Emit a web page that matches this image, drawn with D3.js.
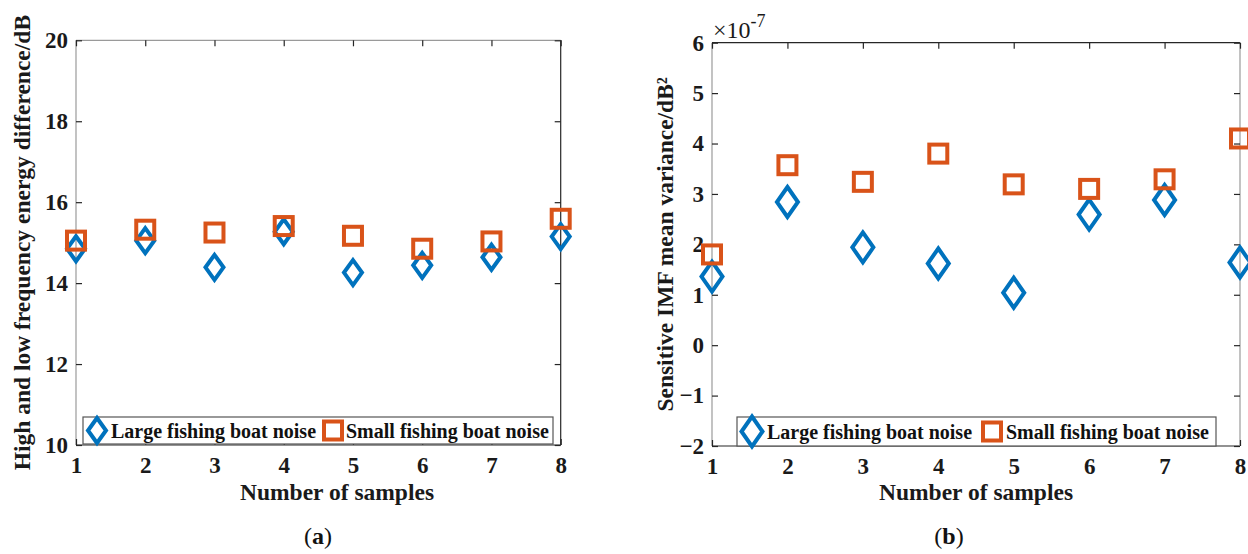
<!DOCTYPE html>
<html>
<head>
<meta charset="utf-8">
<script src="https://cdn.jsdelivr.net/npm/d3@7"></script>
<style>
  html, body { margin: 0; padding: 0; background: #fff; }
  svg { display: block; }
  text { font-family: "Liberation Serif", "Times New Roman", serif; }
</style>
</head>
<body>
<svg id="fig" width="1248" height="554"></svg>
<script>
// Sample indices shared by both panels
const samples = [1, 2, 3, 4, 5, 6, 7, 8];

// (a) High/low frequency energy difference, dB
const energyLarge = [14.85, 15.05, 14.39, 15.27, 14.26, 14.44, 14.64, 15.15];
const energySmall = [15.05, 15.32, 15.25, 15.41, 15.17, 14.85, 15.03, 15.59];

// (b) Sensitive IMF mean variance, dB^2
const varianceLarge = [1.36e-7, 2.84e-7, 1.94e-7, 1.62e-7, 1.04e-7, 2.59e-7, 2.88e-7, 1.64e-7];
const varianceSmall = [1.80e-7, 3.57e-7, 3.24e-7, 3.80e-7, 3.19e-7, 3.10e-7, 3.29e-7, 4.10e-7];

// Tick values
const energyTicks = [10, 12, 14, 16, 18, 20];
const varianceTicks = [-2e-7, -1e-7, 0, 1e-7, 2e-7, 3e-7, 4e-7, 5e-7, 6e-7];

const seriesNames = ["Large fishing boat noise", "Small fishing boat noise"];
const BLUE = "#0072BD", ORANGE = "#D95319";
const INK = "#1a1a1a";

const svg = d3.select("#fig");

function diamondPath(w, h) {
  return `M0,${-h / 2}L${w / 2},0L0,${h / 2}L${-w / 2},0Z`;
}

function drawPanel(opt) {
  const x = d3.scaleLinear().domain([1, 8]).range([opt.left, opt.right]);
  const y = d3.scaleLinear().domain(opt.yDomain).range([opt.bottom, opt.top]);
  const g = svg.append("g");

  // Frame: box around the axes
  const frame = g.append("g").attr("fill", "none").attr("stroke-width", 1.2);
  frame.append("line").attr("x1", opt.left).attr("x2", opt.left).attr("y1", opt.top).attr("y2", opt.bottom).attr("stroke", "#9a9a9a");
  frame.append("line").attr("x1", opt.left).attr("x2", opt.right).attr("y1", opt.bottom).attr("y2", opt.bottom).attr("stroke", "#262626");
  frame.append("line").attr("x1", opt.left).attr("x2", opt.right).attr("y1", opt.top).attr("y2", opt.top).attr("stroke", opt.topColor);
  frame.append("line").attr("x1", opt.right).attr("x2", opt.right).attr("y1", opt.top).attr("y2", opt.bottom).attr("stroke", opt.rightColor);

  // Axes with inward ticks
  const tickLen = 6;
  const xAxisB = d3.axisBottom(x).tickValues(samples).tickSize(-tickLen).tickPadding(12).tickFormat(d3.format("d"));
  const xAxisT = d3.axisTop(x).tickValues(samples).tickSize(-tickLen).tickFormat("");
  const yAxisL = d3.axisLeft(y).tickValues(opt.yTicks).tickSize(-tickLen).tickPadding(8).tickFormat(opt.yFormat);
  const yAxisR = d3.axisRight(y).tickValues(opt.yTicks).tickSize(-tickLen).tickFormat("");

  const styleAxis = sel => {
    sel.select(".domain").remove();
    sel.selectAll(".tick line").attr("stroke", "#262626").attr("stroke-width", 1.2);
    sel.selectAll(".tick text").attr("fill", INK).attr("font-size", 23).attr("font-weight", "bold")
      .attr("font-family", '"Liberation Serif", serif');
  };
  g.append("g").attr("transform", `translate(0,${opt.bottom})`).call(xAxisB).call(styleAxis);
  g.append("g").attr("transform", `translate(0,${opt.top})`).call(xAxisT).call(styleAxis);
  g.append("g").attr("transform", `translate(${opt.left},0)`).call(yAxisL).call(styleAxis);
  g.append("g").attr("transform", `translate(${opt.right},0)`).call(yAxisR).call(styleAxis);

  // Data markers: blue diamonds, then orange squares on top
  g.append("g").selectAll("path").data(opt.large).join("path")
    .attr("d", diamondPath(opt.dw, opt.dh))
    .attr("transform", (d, i) => `translate(${x(samples[i])},${y(d)})`)
    .attr("fill", "none").attr("stroke", BLUE).attr("stroke-width", 4);
  g.append("g").selectAll("rect").data(opt.small).join("rect")
    .attr("x", (d, i) => x(samples[i]) - opt.sq / 2)
    .attr("y", d => y(d) - opt.sq / 2)
    .attr("width", opt.sq).attr("height", opt.sq)
    .attr("fill", "none").attr("stroke", ORANGE).attr("stroke-width", 4);

  // Legend
  const lg = g.append("g");
  lg.append("rect").attr("x", opt.legX0).attr("y", opt.legY0)
    .attr("width", opt.legX1 - opt.legX0).attr("height", opt.legY1 - opt.legY0)
    .attr("fill", "#fff").attr("stroke", "#555").attr("stroke-width", 1.2);
  const cy = (opt.legY0 + opt.legY1) / 2;
  lg.append("path").attr("d", diamondPath(opt.dw, opt.dh))
    .attr("transform", `translate(${opt.legMark1},${cy})`)
    .attr("fill", "none").attr("stroke", BLUE).attr("stroke-width", 4);
  lg.append("rect").attr("x", opt.legMark2 - opt.sq / 2).attr("y", cy - opt.sq / 2)
    .attr("width", opt.sq).attr("height", opt.sq)
    .attr("fill", "none").attr("stroke", ORANGE).attr("stroke-width", 4);
  lg.append("text").attr("x", opt.legText1).attr("y", cy + 7).text(seriesNames[0])
    .attr("font-size", 20).attr("font-weight", "bold").attr("fill", "#111");
  lg.append("text").attr("x", opt.legText2).attr("y", cy + 7).text(seriesNames[1])
    .attr("font-size", 20).attr("font-weight", "bold").attr("fill", "#111");

  // Axis titles
  g.append("text").attr("x", opt.xTitleX).attr("y", 500).attr("text-anchor", "middle")
    .attr("font-size", 23.5).attr("font-weight", "bold").attr("fill", INK).text("Number of samples");
  g.append("text").attr("transform", `translate(${opt.yTitleX},${(opt.top + opt.bottom) / 2}) rotate(-90)`)
    .attr("text-anchor", "middle").attr("font-size", 23.5).attr("font-weight", "bold").attr("fill", INK)
    .text(opt.yTitle);

  // Sub-figure caption
  const cap = g.append("text").attr("x", opt.capX).attr("y", 544).attr("text-anchor", "middle")
    .attr("font-size", 24).attr("fill", "#111");
  cap.append("tspan").text("(");
  cap.append("tspan").attr("font-weight", "bold").text(opt.capLetter);
  cap.append("tspan").text(")");
  return { x, y, g };
}

drawPanel({
  left: 76, right: 560.7, top: 40.3, bottom: 445,
  yDomain: [10, 20], yTicks: energyTicks, yFormat: d3.format("d"),
  topColor: "#9a9a9a", rightColor: "#262626",
  large: energyLarge, small: energySmall, dw: 18, dh: 25, sq: 18,
  legX0: 83, legX1: 553, legY0: 417, legY1: 444,
  legMark1: 97, legText1: 111, legMark2: 333, legText2: 346,
  xTitleX: 337, yTitleX: 30, yTitle: "High and low frequency energy difference/dB",
  capX: 318, capLetter: "a"
});

const right = drawPanel({
  left: 712, right: 1240, top: 42.7, bottom: 446,
  yDomain: [-2e-7, 6e-7], yTicks: varianceTicks, yFormat: d => d3.format("d")(Math.round(d / 1e-7)),
  topColor: "#262626", rightColor: "#9a9a9a",
  large: varianceLarge, small: varianceSmall, dw: 21, dh: 30, sq: 18,
  legX0: 737, legX1: 1216, legY0: 417, legY1: 446,
  legMark1: 752, legText1: 767, legMark2: 992, legText2: 1006,
  xTitleX: 976, yTitleX: 673, yTitle: "Sensitive IMF mean variance/dB\u00B2",
  capX: 949, capLetter: "b"
});

// Exponent factor for the variance axis
const expo = right.g.append("text").attr("x", 713).attr("y", 38).attr("font-size", 24).attr("fill", INK);
expo.append("tspan").text("\u00D710");
expo.append("tspan").attr("dy", -11).attr("font-size", 18).text("-7");
</script>
</body>
</html>
